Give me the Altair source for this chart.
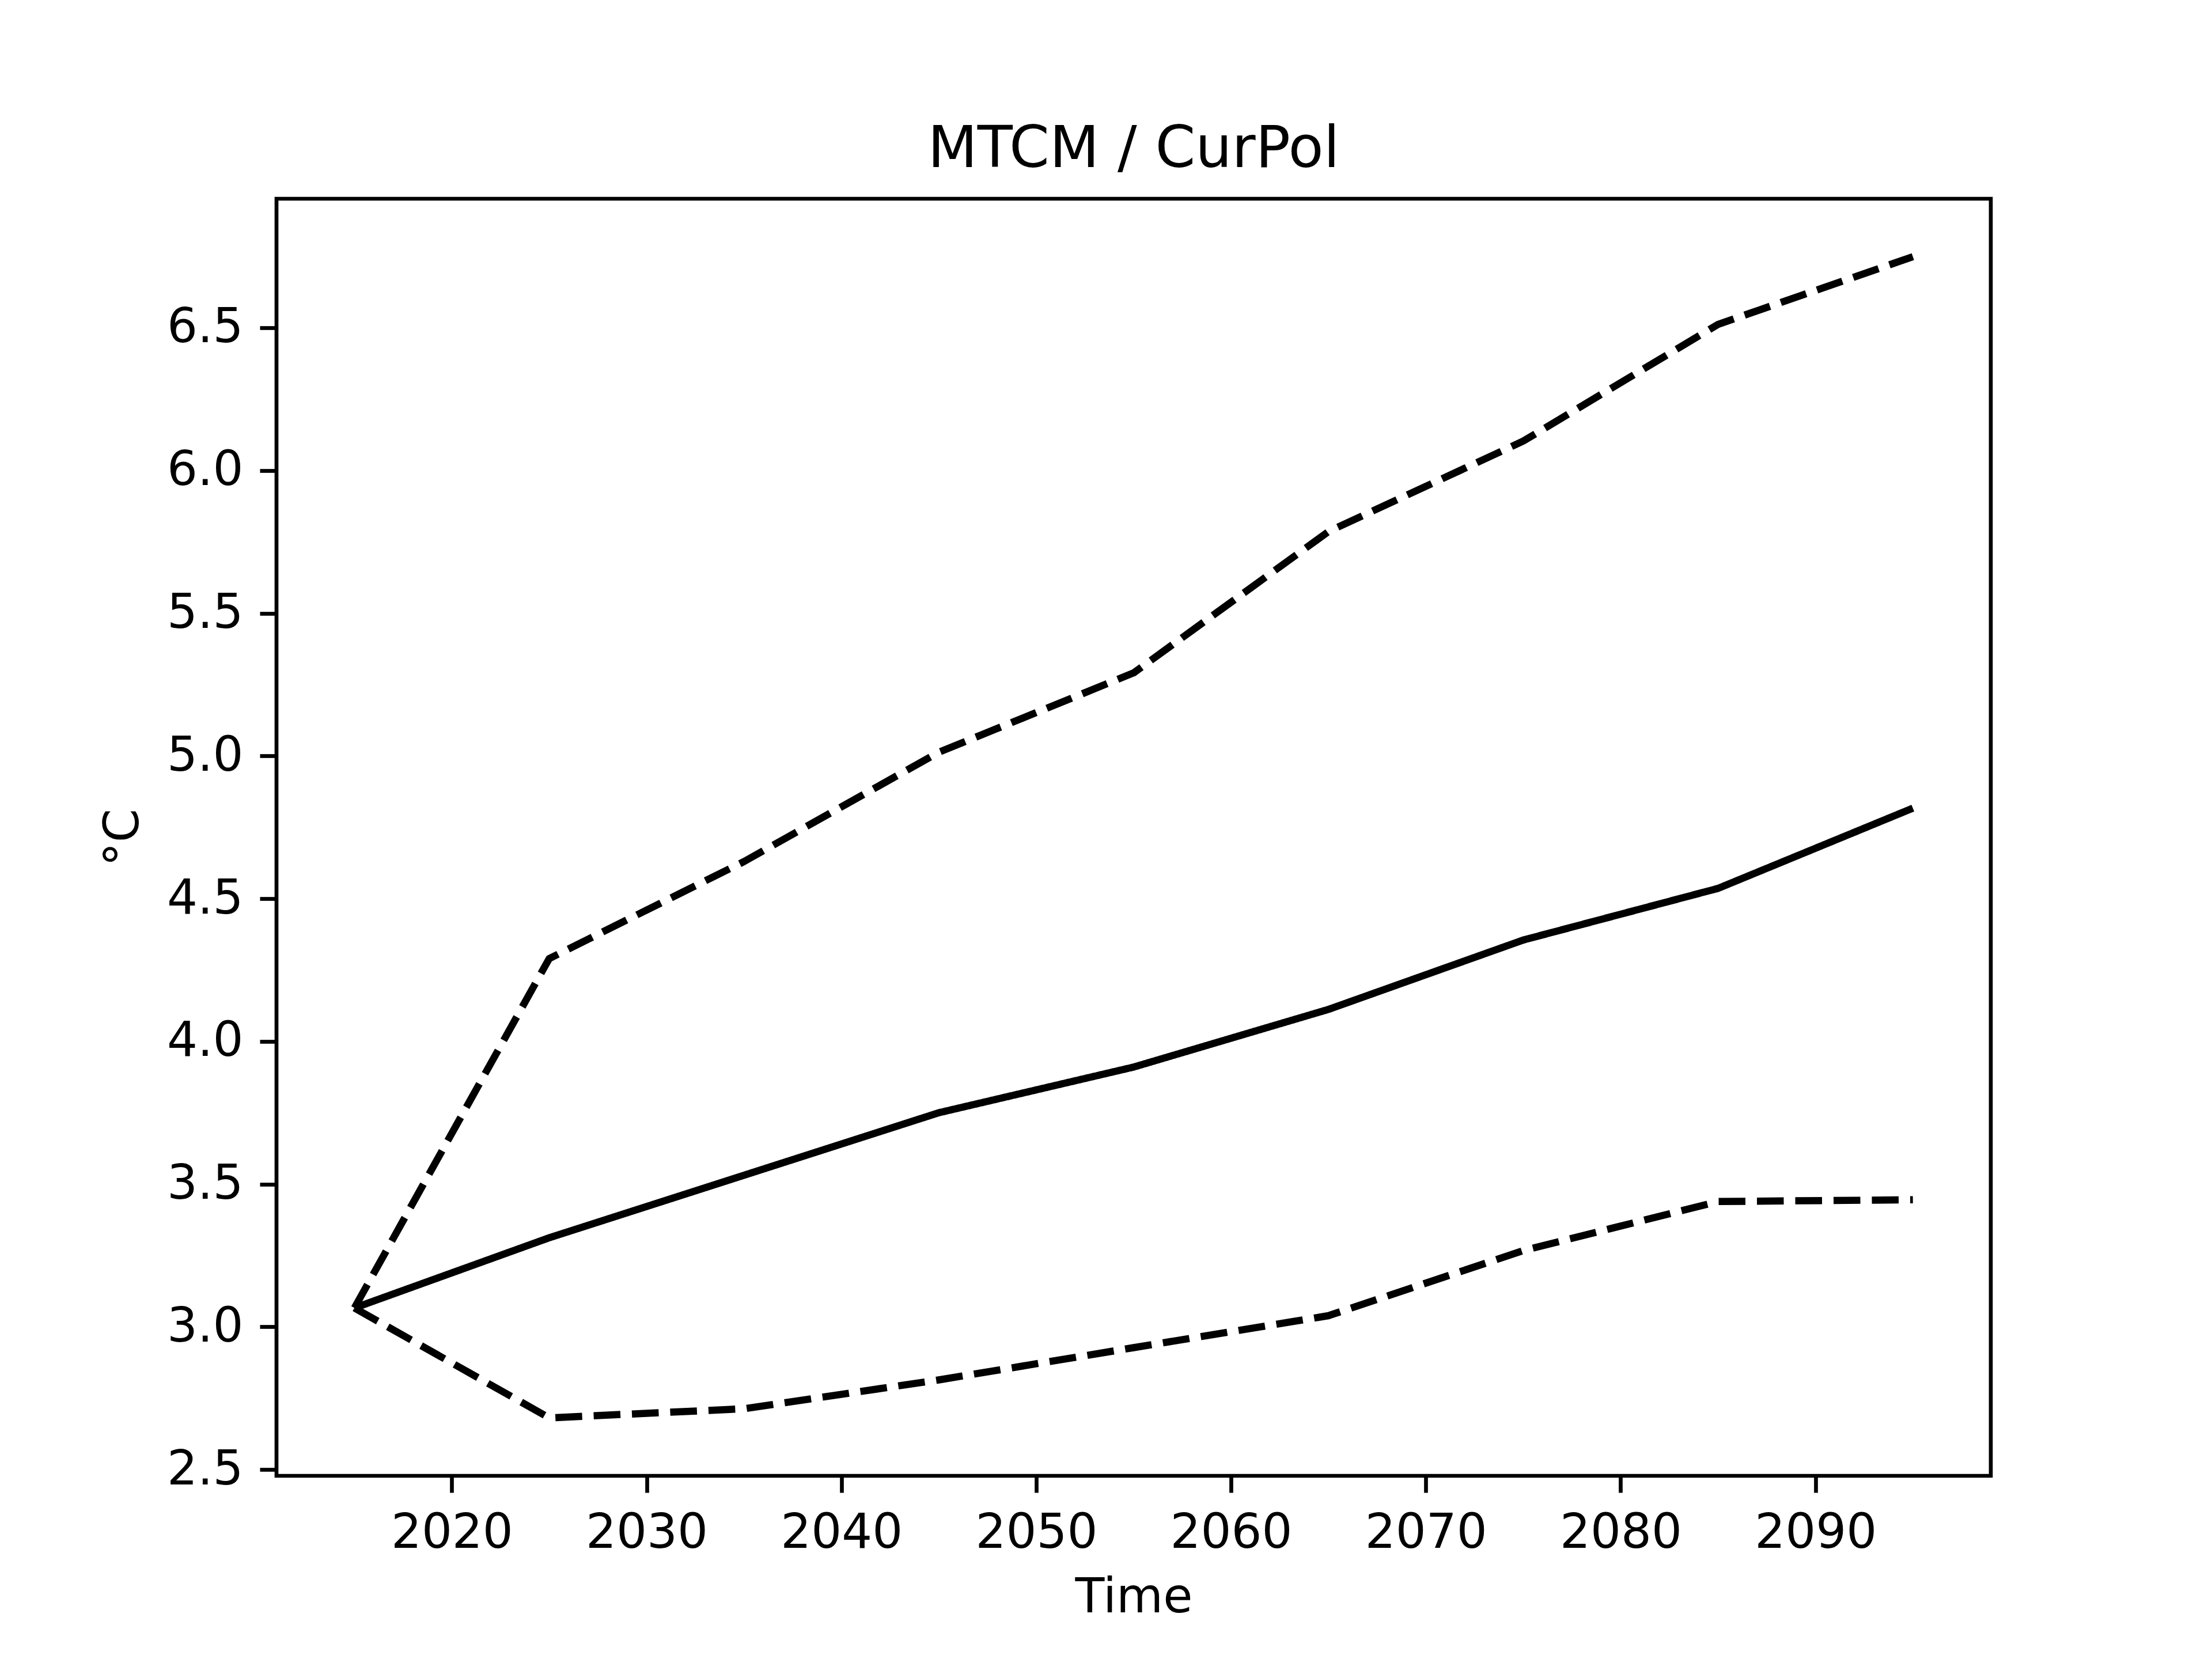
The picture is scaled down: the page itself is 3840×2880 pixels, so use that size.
import altair as alt
import pandas as pd

years = [2015, 2025, 2035, 2045, 2055, 2065, 2075, 2085, 2095]
median = [3.066, 3.312, 3.531, 3.750, 3.910, 4.112, 4.355, 4.536, 4.817]
upper = [3.066, 4.290, 4.630, 5.013, 5.291, 5.786, 6.103, 6.512, 6.749]
lower = [3.066, 2.681, 2.713, 2.814, 2.927, 3.039, 3.267, 3.439, 3.445]
series_names = ["median", "upper", "lower"]

x_ticks = [2020, 2030, 2040, 2050, 2060, 2070, 2080, 2090]
y_ticks = [2.5, 3.0, 3.5, 4.0, 4.5, 5.0, 5.5, 6.0, 6.5]

rows = []
for name, vals in zip(series_names, [median, upper, lower]):
    for yr, v in zip(years, vals):
        rows.append({"Time": yr, "value": v, "series": name})
df = pd.DataFrame(rows)

FONT = "DejaVu Sans"
LS = 83.3

chart = alt.Chart(df).mark_line(color="black", strokeWidth=12.5, strokeJoin="round").encode(
    x=alt.X("Time:Q",
            scale=alt.Scale(domain=[2011, 2099], nice=False, zero=False),
            axis=alt.Axis(values=x_ticks, format="d", title="Time", titlePadding=30)),
    y=alt.Y("value:Q",
            scale=alt.Scale(domain=[2.478, 6.952], nice=False, zero=False),
            axis=alt.Axis(values=y_ticks, format=".1f", title="°C", titlePadding=33)),
    detail="series:N",
    strokeDash=alt.StrokeDash("series:N",
                              scale=alt.Scale(domain=series_names,
                                              range=[[1, 0], [46.5, 20], [46.5, 20]]),
                              legend=None),
).properties(
    width=2976,
    height=2217,
    background="white",
    title=alt.TitleParams("MTCM / CurPol", fontSize=100, font=FONT, fontWeight="normal",
                          color="black", offset=50, dy=95, baseline="alphabetic",
                          anchor="middle"),
    autosize=alt.AutoSizeParams(type="none"),
    padding={"left": 472, "top": 337, "right": 360, "bottom": 300},
).configure_view(
    stroke="black", strokeWidth=6.7
).configure_axis(
    grid=False, domain=False,
    tickSize=29, tickWidth=6.7, tickColor="black",
    labelFont=FONT, labelFontSize=LS, labelColor="black", labelPadding=29,
    labelLimit=1000,
    titleFont=FONT, titleFontSize=LS, titleColor="black", titleFontWeight="normal",
)

chart.save("out.html", embed_options={"renderer": "svg", "actions": False})
